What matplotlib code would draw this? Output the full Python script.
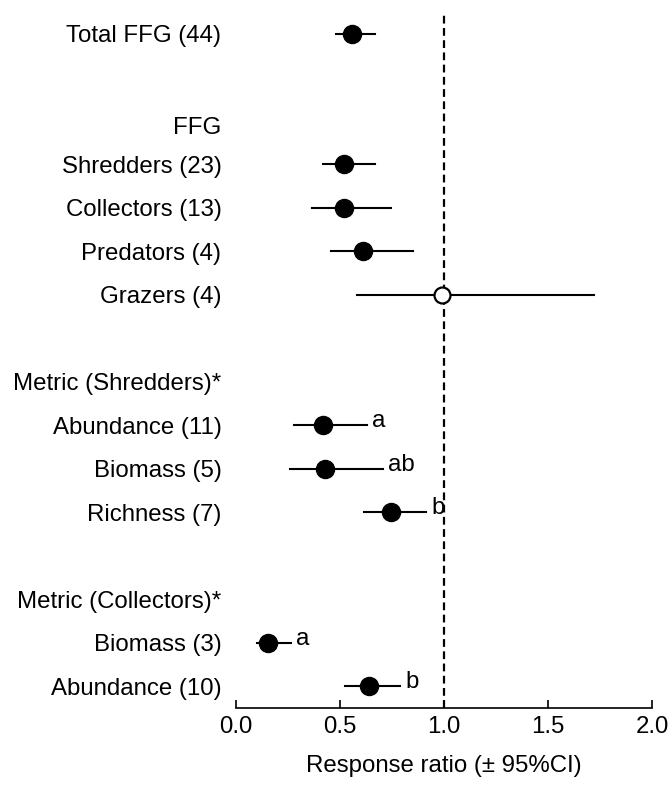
import matplotlib
matplotlib.use("Agg")
import matplotlib.pyplot as plt

plt.rcParams['font.family'] = ['Liberation Sans', 'DejaVu Sans']

# rows (top to bottom); headers have no estimate
labels = ["Total FFG (44)", "FFG", "Shredders (23)", "Collectors (13)",
          "Predators (4)", "Grazers (4)", "Metric (Shredders)*",
          "Abundance (11)", "Biomass (5)", "Richness (7)",
          "Metric (Collectors)*", "Biomass (3)", "Abundance (10)"]
rows = [0, 2.1, 3, 4, 5, 6, 8, 9, 10, 11, 13, 14, 15]

est = [0.56, None, 0.52, 0.52, 0.61, 0.99, None, 0.42, 0.43, 0.745, None, 0.155, 0.64]
lo = [0.48, None, 0.42, 0.365, 0.455, 0.58, None, 0.28, 0.26, 0.615, None, 0.10, 0.525]
hi = [0.67, None, 0.67, 0.745, 0.85, 1.72, None, 0.63, 0.705, 0.915, None, 0.265, 0.79]
signif = [True, None, True, True, True, False, None, True, True, True, None, True, True]
letters = ["", "", "", "", "", "", "", "a", "ab", "b", "", "a", "b"]

fs = 17.3

fig = plt.figure(figsize=(6.71, 7.86), dpi=100)
ax = fig.add_axes([0.3517, 0.0992, 0.62, 0.8855])

ax.axvline(1.0, color='black', ls=(0, (3.5, 2)), lw=1.6, zorder=1)

for y, m, l, h, s, let in zip(rows, est, lo, hi, signif, letters):
    if m is None:
        continue
    ax.plot([l, h], [y, y], color='black', lw=1.5, zorder=2)
    if s:
        ax.plot(m, y, 'o', ms=13, mfc='black', mec='black', zorder=3)
    else:
        ax.plot(m, y, 'o', ms=11.5, mfc='white', mec='black', mew=1.6, zorder=3)
    if let:
        ax.annotate(let, (h, y), xytext=(5, -2), textcoords='offset pixels',
                    ha='left', va='baseline', fontsize=fs)

ax.set_xlim(0, 2.0)
ax.set_ylim(15.5, -0.5)
ax.set_xticks([0.0, 0.5, 1.0, 1.5, 2.0])
ax.set_xticklabels(["0.0", "0.5", "1.0", "1.5", "2.0"])
ax.set_yticks(rows)
ax.set_yticklabels(labels)
ax.tick_params(axis='y', length=0, pad=10.5, labelsize=fs)
ax.tick_params(axis='x', direction='in', length=6, width=1.2, pad=6, labelsize=fs)
for side in ['left', 'top', 'right']:
    ax.spines[side].set_visible(False)
ax.spines['bottom'].set_linewidth(1.2)
ax.set_xlabel("Response ratio (± 95%CI)", fontsize=fs, labelpad=12)

fig.savefig("out.png", dpi=100)
